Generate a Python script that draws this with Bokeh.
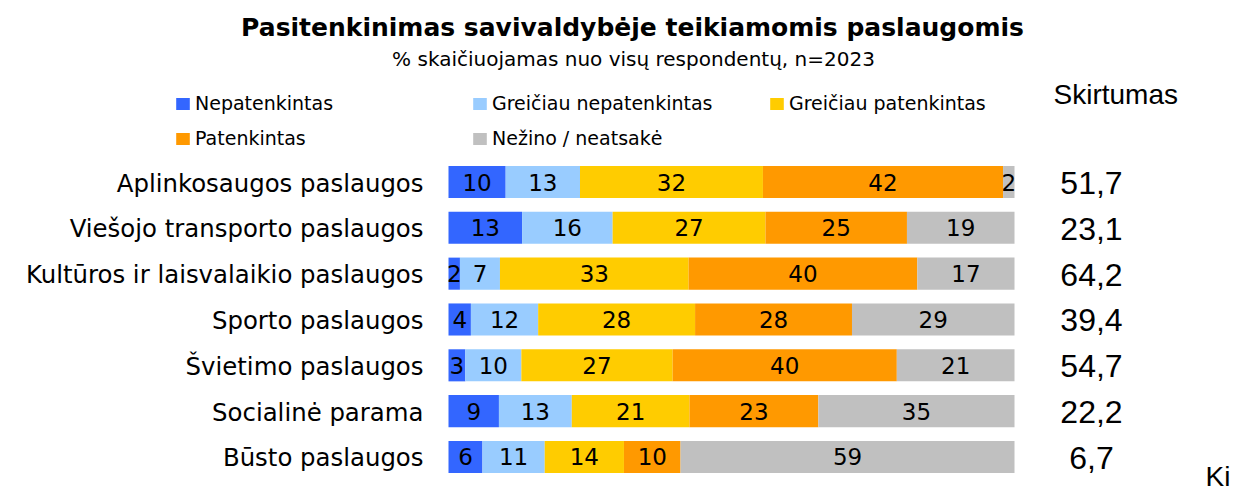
from bokeh.plotting import figure
from bokeh.models import Range1d, ColumnDataSource, Label, Legend, LegendItem
from bokeh.core.properties import value
from bokeh.embed import file_html
from bokeh.resources import INLINE

# ---------------- data ----------------
categories = [
    "Aplinkosaugos paslaugos",
    "Viešojo transporto paslaugos",
    "Kultūros ir laisvalaikio paslaugos",
    "Sporto paslaugos",
    "Švietimo paslaugos",
    "Socialinė parama",
    "Būsto paslaugos",
]
series_names = ["Nepatenkintas", "Greičiau nepatenkintas", "Greičiau patenkintas",
                "Patenkintas", "Nežino / neatsakė"]
nepatenkintas = [10, 13, 2, 4, 3, 9, 6]
greiciau_nepatenkintas = [13, 16, 7, 12, 10, 13, 11]
greiciau_patenkintas = [32, 27, 33, 28, 27, 21, 14]
patenkintas = [42, 25, 40, 28, 40, 23, 10]
nezino = [2, 19, 17, 29, 21, 35, 59]
skirtumas = [51.7, 23.1, 64.2, 39.4, 54.7, 22.2, 6.7]
colors = ["#3366FF", "#99CCFF", "#FFCC00", "#FF9900", "#C0C0C0"]

title_text = "Pasitenkinimas savivaldybėje teikiamomis paslaugomis"
subtitle_text = "% skaičiuojamas nuo visų respondentų, n=2023"
diff_header = "Skirtumas"

# ---------------- layout constants ----------------
W, H = 1234, 491
PX_PER_PCT = 5.66          # 100 % = 566 px
BAR_LEFT = 448             # canvas px of 0 %
ROW0 = 181.5               # canvas px of first row centre
ROW_PITCH = 45.83

def sx(px):   # canvas px -> screen units (from frame left)
    return px

def sy(py):   # canvas px (from top) -> screen units (from frame bottom)
    return H - py

series = [nepatenkintas, greiciau_nepatenkintas, greiciau_patenkintas, patenkintas, nezino]
keys = ["s%d" % i for i in range(len(series))]
rows = list(range(len(categories)))
totals = [sum(s[i] for s in series) for i in rows]

data = {"row": rows}
for k, s in zip(keys, series):
    data[k] = [s[i] / totals[i] * 100 for i in rows]
src = ColumnDataSource(data)

# label positions (segment centres)
lx, ly, lt = [], [], []
for i in rows:
    cum = 0
    for k, s in zip(keys, series):
        share = data[k][i]
        lx.append(cum + share / 2)
        ly.append(i)
        lt.append(str(s[i]))
        cum += share
lab_src = ColumnDataSource(dict(x=lx, y=ly, text=lt))

x0 = -BAR_LEFT / PX_PER_PCT
x1 = (W - BAR_LEFT) / PX_PER_PCT
y_top = -ROW0 / ROW_PITCH
y_bot = (H - ROW0) / ROW_PITCH

p = figure(width=W, height=H, output_backend="svg", toolbar_location=None,
           x_range=Range1d(x0, x1), y_range=Range1d(y_bot, y_top),
           x_axis_type=None, y_axis_type=None,
           min_border=0, min_border_left=0, min_border_right=0,
           min_border_top=0, min_border_bottom=0)
p.grid.visible = False
p.outline_line_color = None
p.background_fill_color = "white"
p.border_fill_color = "white"

rs = p.hbar_stack(keys, y="row", height=0.7, color=colors, line_color=None, source=src)

# values in bars
p.text(x="x", y="y", text="text", source=lab_src,
       text_font=value("DejaVu Sans"), text_font_size="23px", text_color="black",
       text_align="center", text_baseline="middle", y_offset=0)

# category labels
cat_x = (sx(423) - BAR_LEFT) / PX_PER_PCT
p.text(x=[cat_x] * len(rows), y=rows, text=categories,
       text_font=value("DejaVu Sans"), text_font_size="24.4px", text_color="black",
       text_align="right", text_baseline="middle", y_offset=1)

# difference column
diff_x = (sx(1091) - BAR_LEFT) / PX_PER_PCT
p.text(x=[diff_x] * len(rows), y=rows,
       text=[("%.1f" % v).replace(".", ",") for v in skirtumas],
       text_font=value("Liberation Sans"), text_font_size="32px", text_color="black",
       text_align="center", text_baseline="middle", y_offset=1)

# titles
p.add_layout(Label(x=sx(632), y=sy(27), x_units="screen", y_units="screen",
                   text=title_text, text_font="DejaVu Sans", text_font_style="bold",
                   text_font_size="25px", text_color="black",
                   text_align="center", text_baseline="middle"))
p.add_layout(Label(x=sx(633), y=sy(58), x_units="screen", y_units="screen",
                   text=subtitle_text, text_font="DejaVu Sans", text_color="black",
                   text_font_size="20px", text_align="center", text_baseline="middle"))
p.add_layout(Label(x=sx(1053), y=sy(94), x_units="screen", y_units="screen",
                   text=diff_header, text_font="Liberation Sans", text_color="black",
                   text_font_size="28px", text_align="left", text_baseline="middle"))
p.add_layout(Label(x=sx(1205), y=sy(476), x_units="screen", y_units="screen",
                   text="Ki", text_font="Liberation Sans", text_color="black",
                   text_font_size="28px", text_align="left", text_baseline="middle"))

# legend
items = [LegendItem(label=n, renderers=[r]) for n, r in zip(series_names, rs)]
legend = Legend(items=items, orientation="horizontal", ncols=3,
                location=(sx(174), sy(149)),
                glyph_width=17, glyph_height=15, label_standoff=4,
                label_width=263, label_height=20, spacing=13,
                padding=0, margin=0,
                label_text_font="DejaVu Sans", label_text_font_size="19px",
                label_text_color="black",
                border_line_color=None, background_fill_alpha=0)
p.add_layout(legend, "center")

open("out.html", "w").write(file_html(p, INLINE))
